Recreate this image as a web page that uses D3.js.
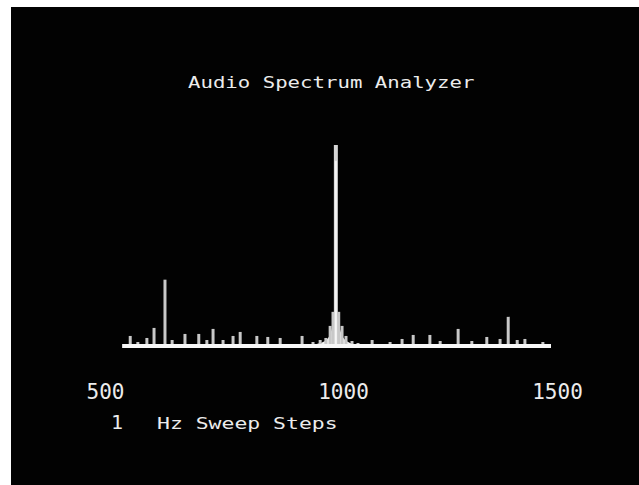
<!DOCTYPE html>
<html>
<head>
<meta charset="utf-8">
<script src="https://cdn.jsdelivr.net/npm/d3@7"></script>
<style>
  body { margin: 0; background: #fff; }
  text { font-family: "DejaVu Sans Mono", monospace; fill: #ececec; }
</style>
</head>
<body>
<div id="chart"></div>
<script>
// tick labels on the sweep axis (Hz)
var tickHz = [500, 1000, 1500];

// spectral lines: frequency (Hz) and level (0..100, tone = 100)
var lineHz  = [553, 569, 588, 603, 626, 641, 668, 697, 714, 727, 748, 769, 784, 819, 842, 868, 914,
               937, 952, 964, 973, 979, 985, 991, 998, 1007, 1021, 1035,
               1068, 1110, 1138, 1164, 1203, 1227, 1269, 1301, 1336, 1367, 1386, 1407, 1425, 1467];
var lineLvl = [5, 2, 4, 9, 33, 3, 6, 6, 3, 8.5, 3, 5, 7, 5, 4.5, 4, 5,
               2, 3, 4, 10, 17, 100, 17, 10, 5, 2.5, 1.5,
               3, 2, 3.5, 5.5, 5.5, 2.5, 8.5, 2.5, 4.5, 3.5, 14.5, 3, 3.5, 2];

// skirt around the test tone
var skirtHz  = [925, 945, 958, 967, 974, 979, 985, 991, 996, 1003, 1012, 1025, 1045];
var skirtLvl = [0, 1, 2, 3.5, 6.5, 11, 17, 11, 6.5, 3.5, 2, 1, 0];

// sweep range
var sweepHz = [536, 1486];

var W = 639, H = 485;
var svg = d3.select("#chart").append("svg").attr("width", W).attr("height", H);

// CRT screen
svg.append("rect").attr("x", 11).attr("y", 7).attr("width", W - 11).attr("height", H - 7).attr("fill", "#020202");

var x = d3.scaleLinear().domain(tickHz).range([105, 343, 557]);
var y = d3.scaleLinear().domain([0, 100]).range([346, 145]);

// title (wide vector-style lettering)
svg.append("text")
    .attr("transform", "translate(188,88) scale(1.38,1)")
    .style("font-size", "15px")
    .text("Audio Spectrum Analyzer");

// skirt
var area = d3.area()
    .x(function (d) { return x(d[0]); })
    .y0(y(0))
    .y1(function (d) { return y(d[1]); })
    .curve(d3.curveMonotoneX);
svg.append("path")
    .datum(d3.zip(skirtHz, skirtLvl))
    .attr("d", area)
    .attr("fill", "#f4f4f4");

// spectral lines
svg.selectAll("line.spec")
    .data(d3.zip(lineHz, lineLvl))
    .enter()
    .append("line")
    .attr("class", "spec")
    .attr("x1", function (d) { return x(d[0]); })
    .attr("x2", function (d) { return x(d[0]); })
    .attr("y1", y(0))
    .attr("y2", function (d) { return y(d[1]); })
    .attr("stroke", function (d) { return d[1] > 50 ? "#d6d6d6" : "#c8c8c8"; })
    .attr("stroke-width", function (d) { return d[1] > 50 ? 4 : 3; });

// bright core of the tone
var tone = lineLvl.indexOf(d3.max(lineLvl));
svg.append("line")
    .attr("x1", x(lineHz[tone])).attr("x2", x(lineHz[tone]))
    .attr("y1", y(0)).attr("y2", y(92))
    .attr("stroke", "#f6f6f6").attr("stroke-width", 2);

// baseline
svg.append("line")
    .attr("x1", x(sweepHz[0])).attr("x2", x(sweepHz[1]))
    .attr("y1", y(0)).attr("y2", y(0))
    .attr("stroke", "#f8f8f8").attr("stroke-width", 4);

// axis labels
var axis = d3.axisBottom(x).tickValues(tickHz).tickSize(0).tickPadding(0).tickFormat(d3.format("d"));
var gx = svg.append("g").attr("transform", "translate(0,384)").call(axis);
gx.select(".domain").remove();
gx.selectAll("text")
    .style("font-family", "'DejaVu Sans Mono', monospace")
    .style("font-size", "21px")
    .attr("fill", "#ececec");

// step note
svg.append("text").attr("x", 117).attr("y", 429).attr("text-anchor", "middle")
    .style("font-size", "20px").text("1");
svg.append("text")
    .attr("transform", "translate(157,429) scale(1.34,1)")
    .style("font-size", "16px")
    .text("Hz Sweep Steps");
</script>
</body>
</html>
